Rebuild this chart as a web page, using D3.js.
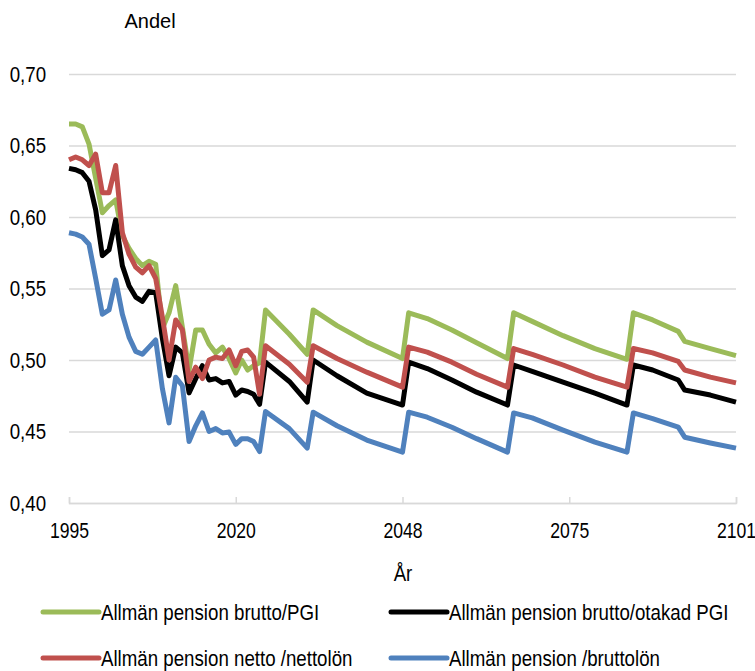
<!DOCTYPE html>
<html>
<head>
<meta charset="utf-8">
<script src="https://cdn.jsdelivr.net/npm/d3@7/dist/d3.min.js"></script>
<style>
  body { margin: 0; background: #fff; }
  svg text { font-family: "Liberation Sans", Arial, sans-serif; fill: #000; }
</style>
</head>
<body>
<svg id="chart" width="755" height="671"></svg>
<script>
// Years, annual until 2025, then the corners of each saw-tooth
var years = [1995, 1996, 1997, 1998, 1999, 2000, 2001, 2002, 2003, 2004,
    2005, 2006, 2007, 2008, 2009, 2010, 2011, 2012, 2013, 2014,
    2015, 2016, 2017, 2018, 2019, 2020, 2021, 2022, 2023, 2024, 2025,
    2029, 2032, 2033, 2037, 2042, 2048, 2049, 2052, 2056, 2060, 2065,
    2066, 2069, 2074, 2079, 2084, 2085, 2088, 2092, 2093, 2097, 2101];

var bruttoPGI = [0.665, 0.665, 0.663, 0.651, 0.627, 0.603, 0.608, 0.612, 0.587, 0.578,
    0.571, 0.566, 0.569, 0.567, 0.522, 0.533, 0.552, 0.523, 0.493, 0.521,
    0.521, 0.511, 0.505, 0.509, 0.501, 0.491, 0.500, 0.493, 0.496, 0.498, 0.535,
    0.518, 0.504, 0.535, 0.524, 0.5125, 0.501, 0.533, 0.529, 0.521, 0.512, 0.501,
    0.533, 0.527, 0.517, 0.508, 0.5005, 0.533, 0.528, 0.520, 0.513, 0.508, 0.503];

var bruttoOtakad = [0.634, 0.633, 0.631, 0.625, 0.605, 0.573, 0.577, 0.598, 0.566, 0.552,
    0.544, 0.541, 0.548, 0.547, 0.515, 0.489, 0.509, 0.505, 0.477, 0.487,
    0.496, 0.486, 0.487, 0.484, 0.485, 0.4755, 0.479, 0.478, 0.476, 0.469, 0.4985,
    0.485, 0.4705, 0.500, 0.489, 0.4768, 0.4685, 0.4985, 0.494, 0.486, 0.4775, 0.4685,
    0.4965, 0.492, 0.4845, 0.4768, 0.4685, 0.4965, 0.493, 0.486, 0.479, 0.4755, 0.4705];

var nettoNettolon = [0.640, 0.642, 0.640, 0.636, 0.644, 0.617, 0.617, 0.636, 0.589, 0.574,
    0.565, 0.561, 0.566, 0.557, 0.530, 0.500, 0.528, 0.521, 0.485, 0.495,
    0.487, 0.500, 0.502, 0.501, 0.507, 0.496, 0.506, 0.507, 0.502, 0.476, 0.510,
    0.497, 0.4845, 0.510, 0.501, 0.4915, 0.481, 0.509, 0.5055, 0.4985, 0.490, 0.481,
    0.508, 0.504, 0.4965, 0.488, 0.481, 0.508, 0.505, 0.499, 0.493, 0.488, 0.484];

var bruttolon = [0.589, 0.588, 0.586, 0.581, 0.557, 0.532, 0.535, 0.556, 0.532, 0.516,
    0.506, 0.504, 0.509, 0.514, 0.480, 0.456, 0.488, 0.482, 0.443, 0.454,
    0.463, 0.450, 0.452, 0.449, 0.4496, 0.441, 0.445, 0.445, 0.443, 0.436, 0.464,
    0.452, 0.4384, 0.4635, 0.454, 0.444, 0.4356, 0.4635, 0.460, 0.453, 0.445, 0.4356,
    0.463, 0.4595, 0.451, 0.4426, 0.4356, 0.463, 0.459, 0.453, 0.446, 0.442, 0.4384];

var seriesNames = ['Allmän pension brutto/PGI', 'Allmän pension brutto/otakad PGI',
    'Allmän pension netto /nettolön', 'Allmän pension /bruttolön'];
var seriesValues = [bruttoPGI, bruttoOtakad, nettoNettolon, bruttolon];
var seriesColors = ['#9BBB59', '#000000', '#C0504D', '#4F81BD'];

var xTicks = [1995, 2020, 2048, 2075, 2101];
var yTicks = [0.40, 0.45, 0.50, 0.55, 0.60, 0.65, 0.70];

// no condensed face is installed, so squeeze text horizontally
var NARROW = 'scale(0.85,1)';

var svg = d3.select('#chart');
var margin = { left: 69, right: 19, top: 74, bottom: 168 };
var width = 755 - margin.left - margin.right,
    height = 671 - margin.top - margin.bottom;

var g = svg.append('g')
    .attr('transform', 'translate(' + margin.left + ',' + margin.top + ')');

// Category axis: the labelled years sit at equal distances
var x = d3.scaleLinear()
    .domain(xTicks)
    .range(xTicks.map(function(d, i) { return i * width / (xTicks.length - 1); }));
var y = d3.scaleLinear().domain([0.40, 0.70]).range([height, 0]);

var comma = function(d) { return d3.format('.2f')(d).replace('.', ','); };

// y grid + labels
var yAxis = g.append('g')
    .call(d3.axisLeft(y).tickValues(yTicks).tickSize(-width).tickPadding(27).tickFormat(comma));
yAxis.select('.domain').remove();
yAxis.selectAll('line').attr('stroke', '#D9D9D9').attr('stroke-width', 1.5);
yAxis.selectAll('text').style('font-size', '22px').attr('transform', NARROW);

// x axis
var xAxis = g.append('g')
    .attr('transform', 'translate(0,' + height + ')')
    .call(d3.axisBottom(x).tickValues(xTicks).tickSize(-6).tickPadding(19).tickFormat(d3.format('d')));
xAxis.select('.domain').attr('stroke', '#D9D9D9').attr('stroke-width', 1.5);
xAxis.selectAll('line').attr('stroke', '#D9D9D9').attr('stroke-width', 1.5);
xAxis.selectAll('text').style('font-size', '22px').attr('transform', 'scale(0.8,1)');

// lines
var line = d3.line()
    .x(function(d) { return x(d[0]); })
    .y(function(d) { return y(d[1]); });

seriesValues.forEach(function(vals, i) {
    g.append('path')
        .datum(years.map(function(yr, j) { return [yr, vals[j]]; }))
        .attr('fill', 'none')
        .attr('stroke', seriesColors[i])
        .attr('stroke-width', 5)
        .attr('stroke-linejoin', 'round')
        .attr('d', line);
});

// titles
svg.append('text')
    .attr('x', 150).attr('y', 28)
    .attr('text-anchor', 'middle')
    .style('font-size', '20px')
    .text('Andel');
svg.append('text')
    .attr('transform', 'translate(403,581) ' + NARROW)
    .attr('text-anchor', 'middle')
    .style('font-size', '22px')
    .text('År');

// legend
var legendPos = [[43, 612], [391, 612], [43, 658], [391, 658]];
seriesNames.forEach(function(name, i) {
    var item = svg.append('g')
        .attr('transform', 'translate(' + legendPos[i][0] + ',' + legendPos[i][1] + ')');
    item.append('line')
        .attr('x1', 0).attr('x2', 56)
        .attr('stroke', seriesColors[i])
        .attr('stroke-width', 5)
        .attr('stroke-linecap', 'round');
    item.append('text')
        .attr('transform', 'translate(58,8) ' + NARROW)
        .style('font-size', '22px')
        .text(name);
});
</script>
</body>
</html>
